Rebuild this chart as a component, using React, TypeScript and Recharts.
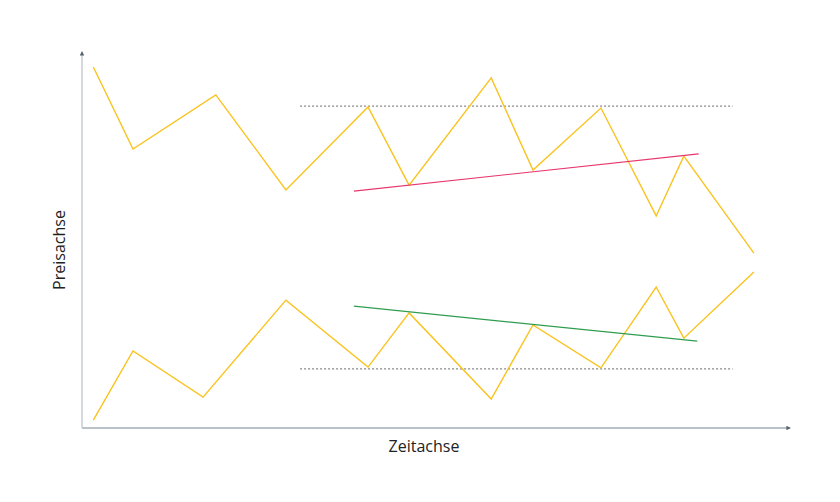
import React from "react";
import { LineChart, Line, XAxis, YAxis, Label } from "recharts";

// time positions and prices (0..100 scale)
const upperTimes = [1.6, 7.2, 18.9, 28.8, 40.4, 46.2, 57.8, 63.7, 73.3, 81.1, 85.0, 94.9];
const upperPrices = [96.0, 74.2, 88.6, 63.3, 85.4, 64.6, 93.1, 68.6, 85.1, 56.4, 72.3, 46.5];
const lowerTimes = [1.6, 7.2, 17.1, 28.8, 40.4, 46.2, 57.8, 63.7, 73.3, 81.1, 85.0, 94.9];
const lowerPrices = [2.1, 20.5, 8.2, 34.0, 16.2, 30.6, 7.7, 27.4, 16.0, 37.5, 23.9, 41.5];

const resistanceTimes = [30.8, 91.9];
const resistancePrices = [85.6, 85.6];
const supportTimes = [30.8, 91.9];
const supportPrices = [15.7, 15.7];
const risingTimes = [38.4, 87.1];
const risingPrices = [63.0, 72.9];
const fallingTimes = [38.4, 86.9];
const fallingPrices = [32.4, 23.1];

const zip = (ts: number[], ps: number[]) => ts.map((t, i) => ({ t, p: ps[i] }));

const upper = zip(upperTimes, upperPrices);
const lower = zip(lowerTimes, lowerPrices);
const resistance = zip(resistanceTimes, resistancePrices);
const support = zip(supportTimes, supportPrices);
const rising = zip(risingTimes, risingPrices);
const falling = zip(fallingTimes, fallingPrices);

const YELLOW = "#f9c31f";
const FONT = "'Open Sans', sans-serif";

export default function App() {
  return (
    <div style={{ position: "absolute", left: 0, top: 0, background: "#fff" }}>
      <LineChart width={840} height={502} margin={{ top: 52, right: 50, bottom: 73, left: 81 }}>
        <defs>
          <marker id="arrow" viewBox="0 0 10 10" refX="8" refY="5" markerWidth="3" markerHeight="3" orient="auto-start-reverse">
            <path d="M0,0 L10,5 L0,10 z" fill="#56666e" />
          </marker>
        </defs>
        <XAxis
          type="number"
          dataKey="t"
          domain={[0, 100]}
          height={1}
          tick={false}
          tickLine={false}
          axisLine={{ stroke: "#a3adb5", strokeWidth: 1.5, markerEnd: "url(#arrow)" }}
        >
          <Label value="Zeitachse" position="bottom" offset={12} dx={-12} fill="#222" fontSize={16} fontFamily={FONT} />
        </XAxis>
        <YAxis
          type="number"
          dataKey="p"
          domain={[0, 100]}
          width={1}
          tick={false}
          tickLine={false}
          axisLine={{ stroke: "#c5ccd2", strokeWidth: 1.5, markerStart: "url(#arrow)" }}
        >
          <Label value="Preisachse" angle={-90} position="left" offset={22} dy={10} textAnchor="middle" fill="#222" fontSize={16} fontFamily={FONT} />
        </YAxis>
        <Line data={resistance} dataKey="p" stroke="#8a8a8a" strokeWidth={1.3} strokeDasharray="2 2" dot={false} isAnimationActive={false} />
        <Line data={support} dataKey="p" stroke="#8a8a8a" strokeWidth={1.3} strokeDasharray="2 2" dot={false} isAnimationActive={false} />
        <Line data={upper} dataKey="p" stroke={YELLOW} strokeWidth={1.4} dot={false} type="linear" isAnimationActive={false} />
        <Line data={lower} dataKey="p" stroke={YELLOW} strokeWidth={1.4} dot={false} type="linear" isAnimationActive={false} />
        <Line data={rising} dataKey="p" stroke="#e8366d" strokeWidth={1.2} dot={false} isAnimationActive={false} />
        <Line data={falling} dataKey="p" stroke="#2f9d4e" strokeWidth={1.2} dot={false} isAnimationActive={false} />
      </LineChart>
    </div>
  );
}
